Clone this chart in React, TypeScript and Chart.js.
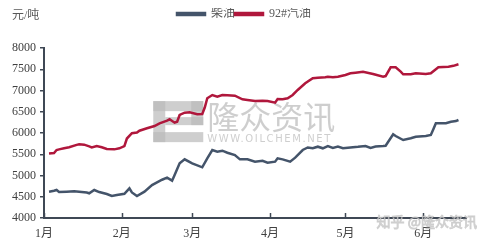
import React, { useEffect, useRef } from 'react';
import { Chart, registerables } from 'chart.js';

Chart.register(...registerables);

// ---- data (x = day offset from 1 Jan) ----
const monthLabels = ['1月', '2月', '3月', '4月', '5月', '6月'];
const monthStartDays = [0, 31, 59, 90, 120, 151];
const xMaxDay = 168;
const yMin = 4000;
const yMax = 8000;
const yStep = 500;

const seriesNames = ['柴油', '92#汽油'];

const dieselDays = [2, 4, 5, 6, 9, 12, 14, 17, 18, 20, 22, 25, 27, 29, 32, 34, 35, 37, 40, 43, 47, 49, 51, 52, 54, 56, 59, 63, 65, 67, 69, 71, 73, 76, 78, 81, 84, 87, 89, 92, 93, 95, 98, 100, 103, 105, 107, 109, 111, 113, 115, 117, 119, 122, 125, 128, 130, 132, 135, 136, 139, 140, 143, 146, 148, 152, 154, 155, 156, 160, 162, 164, 165];
const dieselPrices = [4619, 4640, 4659, 4612, 4619, 4628, 4619, 4600, 4581, 4659, 4610, 4565, 4518, 4540, 4570, 4699, 4600, 4518, 4619, 4776, 4900, 4948, 4878, 5012, 5287, 5381, 5287, 5193, 5405, 5600, 5560, 5584, 5536, 5482, 5380, 5380, 5325, 5345, 5300, 5325, 5405, 5380, 5325, 5420, 5600, 5660, 5640, 5678, 5640, 5694, 5650, 5680, 5640, 5660, 5675, 5694, 5650, 5680, 5694, 5700, 5970, 5929, 5835, 5875, 5913, 5930, 5953, 6090, 6228, 6230, 6266, 6280, 6306];

const gasolineDays = [2, 4, 5, 6, 8, 10, 13, 14, 16, 18, 19, 21, 23, 25, 28, 30, 32, 33, 35, 37, 38, 41, 44, 46, 49, 50, 52, 53, 54, 56, 58, 61, 63, 64, 65, 67, 69, 71, 73, 76, 79, 81, 84, 87, 89, 92, 93, 95, 97, 99, 101, 104, 107, 109, 112, 113, 115, 117, 120, 122, 124, 127, 131, 135, 136, 138, 140, 142, 143, 146, 148, 152, 154, 156, 157, 161, 163, 165];
const gasolinePrices = [5520, 5530, 5600, 5615, 5640, 5665, 5720, 5735, 5725, 5685, 5660, 5695, 5665, 5625, 5615, 5640, 5690, 5870, 5995, 6010, 6054, 6111, 6165, 6228, 6290, 6322, 6242, 6266, 6424, 6478, 6487, 6440, 6447, 6600, 6817, 6894, 6854, 6894, 6887, 6878, 6793, 6777, 6753, 6760, 6753, 6713, 6800, 6793, 6817, 6894, 7012, 7170, 7287, 7301, 7311, 7325, 7311, 7325, 7365, 7405, 7420, 7443, 7390, 7325, 7340, 7546, 7546, 7443, 7381, 7381, 7405, 7390, 7405, 7500, 7546, 7560, 7580, 7617];

const unitLabel = '元/吨';
const watermarkMain = '隆众资讯';
const watermarkSite = 'WWW.OILCHEM.NET';
const watermarkCorner = '知乎 @隆众资讯';

// ---- styles ----
const AXIS = '#3f4855';
const BLUE = '#44546a';
const RED = '#b0173c';
const SERIF = "'Liberation Serif', 'Noto Sans CJK SC', serif";

const decorPlugin = {
  id: 'decor',
  afterLayout(chart: any) {
    if (chart.legend) {
      chart.legend.left += 7;
      chart.legend.right += 7;
    }
  },
  beforeDatasetsDraw(chart: any) {
    const { ctx } = chart;
    const x = chart.scales.x;
    const y = chart.scales.y;
    ctx.save();
    // logo block
    const lx = x.getPixelForValue(43.5);
    const ly = y.getPixelForValue(6750);
    ctx.fillStyle = 'rgba(185,185,185,0.7)';
    const w = 50, h = 41;
    ctx.fillRect(lx, ly, w, 10);
    ctx.fillRect(lx, ly, 12, h);
    ctx.fillRect(lx + 12, ly + 16, w - 12, 8);
    ctx.fillRect(lx + w - 12, ly, 12, 24);
    ctx.fillRect(lx, ly + h - 10, w, 10);
    // main text
    ctx.fillStyle = 'rgba(190,190,190,0.75)';
    ctx.font = "32px 'Noto Sans CJK SC', sans-serif";
    ctx.textBaseline = 'middle';
    ctx.textAlign = 'left';
    const tx = x.getPixelForValue(65);
    ctx.fillText(watermarkMain, tx, y.getPixelForValue(6370));
    ctx.font = "10px 'DejaVu Sans', sans-serif";
    (ctx as any).letterSpacing = '1.6px';
    ctx.fillText(watermarkSite, tx, y.getPixelForValue(5850));
    ctx.restore();
  },
  afterDraw(chart: any) {
    const { ctx, chartArea } = chart;
    const x = chart.scales.x;
    ctx.save();
    // inner ticks on x axis
    ctx.strokeStyle = AXIS;
    ctx.lineWidth = 1.5;
    monthStartDays.forEach((d) => {
      const px = Math.round(x.getPixelForValue(d)) + 0.5;
      ctx.beginPath();
      ctx.moveTo(px, chartArea.bottom);
      ctx.lineTo(px, chartArea.bottom - 5);
      ctx.stroke();
    });
    // unit label
    ctx.fillStyle = '#595959';
    ctx.font = `12px ${SERIF}`;
    ctx.textBaseline = 'middle';
    ctx.textAlign = 'left';
    ctx.fillText(unitLabel, 4, 8);
    // corner watermark
    ctx.font = "14px 'Noto Sans CJK SC', sans-serif";
    ctx.textAlign = 'right';
    ctx.fillStyle = 'rgba(205,205,205,0.8)';
    ctx.strokeStyle = 'rgba(160,160,160,0.5)';
    ctx.lineWidth = 0.8;
    ctx.strokeText(watermarkCorner, chart.width - 7, chartArea.bottom + 4);
    ctx.fillText(watermarkCorner, chart.width - 7, chartArea.bottom + 4);
    ctx.restore();
  },
};

export default function App() {
  const ref = useRef<HTMLCanvasElement>(null);
  useEffect(() => {
    const canvas = ref.current;
    if (!canvas) return;
    const chart = new Chart(canvas, {
      type: 'line',
      data: {
        datasets: [
          {
            label: seriesNames[0],
            data: dieselDays.map((d, i) => ({ x: d, y: dieselPrices[i] })),
            borderColor: BLUE,
            backgroundColor: BLUE,
            borderWidth: 2.5,
            pointRadius: 0,
            tension: 0,
          },
          {
            label: seriesNames[1],
            data: gasolineDays.map((d, i) => ({ x: d, y: gasolinePrices[i] })),
            borderColor: RED,
            backgroundColor: RED,
            borderWidth: 2.5,
            pointRadius: 0,
            tension: 0,
          },
        ],
      },
      options: {
        animation: false,
        responsive: false,
        devicePixelRatio: 1,
        layout: { padding: { left: 0, right: 18, top: 0, bottom: 0 } },
        plugins: {
          tooltip: { enabled: false },
          legend: {
            position: 'top',
            align: 'center',
            labels: {
              boxWidth: 28,
              boxHeight: 2,
              padding: 0,
              color: '#595959',
              font: { size: 12, family: SERIF },
            },
          },
        },
        scales: {
          x: {
            type: 'linear',
            min: 0,
            max: xMaxDay,
            afterBuildTicks: (scale: any) => {
              scale.ticks = monthStartDays.map((v) => ({ value: v }));
            },
            afterFit: (scale: any) => {
              scale.height = 20;
            },
            ticks: {
              autoSkip: false,
              maxRotation: 0,
              padding: 9,
              color: '#404040',
              font: { size: 12, family: SERIF },
              callback: (v: any) => {
                const i = monthStartDays.indexOf(Number(v));
                return i >= 0 ? monthLabels[i] : '';
              },
            },
            grid: { drawOnChartArea: false, drawTicks: false, color: AXIS },
            border: { display: true, color: AXIS, width: 2 },
          },
          y: {
            min: yMin,
            max: yMax,
            afterFit: (scale: any) => {
              scale.width = 36;
            },
            ticks: {
              stepSize: yStep,
              padding: 4,
              color: '#404040',
              font: { size: 12, family: SERIF },
              callback: (v: any) => String(v),
            },
            grid: { drawOnChartArea: false, drawTicks: true, tickLength: 4, color: AXIS, lineWidth: 1.5 },
            border: { display: true, color: AXIS, width: 2 },
          },
        },
      },
      plugins: [
        {
          id: 'legendSpace',
          beforeInit(chart: any) {
            const legend = chart.legend;
            if (!legend) return;
            const origFit = legend.fit;
            legend.fit = function () {
              origFit.call(this);
              this.height += 18;
            };
          },
        },
        decorPlugin,
      ],
    } as any);
    return () => chart.destroy();
  }, []);
  return (
    <div style={{ width: 476, height: 230 }}>
      <canvas ref={ref} width={476} height={230} style={{ display: 'block' }} />
    </div>
  );
}
